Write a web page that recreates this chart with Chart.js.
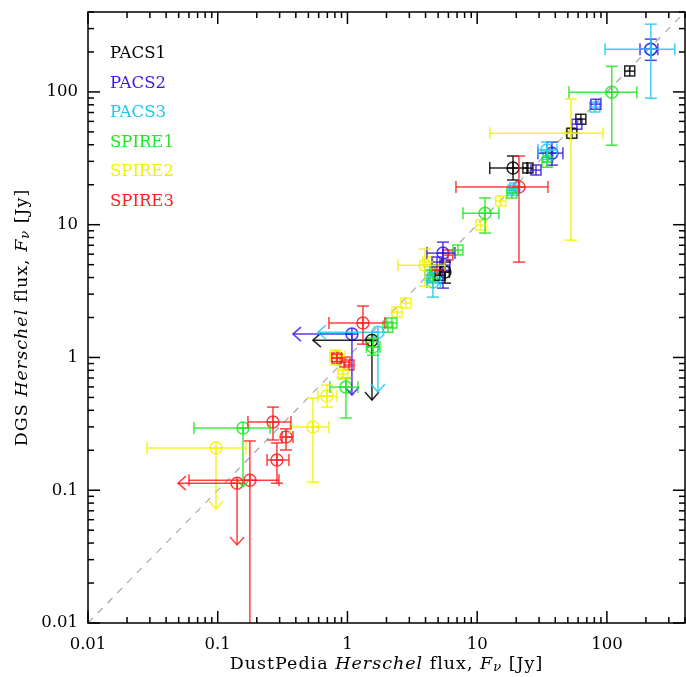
<!DOCTYPE html>
<html>
<head>
<meta charset="utf-8">
<script src="https://cdn.jsdelivr.net/npm/chart.js@4.4.1/dist/chart.umd.min.js"></script>
<style>
  html, body { margin: 0; padding: 0; background: #fff; overflow: hidden; }
  #wrap { width: 686px; height: 677px; position: relative; }
  canvas { display: block; }
</style>
</head>
<body>
<div id="wrap"><canvas id="flux"></canvas></div>
<script>
// Legend / band colours
const bandNames = ['PACS1', 'PACS2', 'PACS3', 'SPIRE1', 'SPIRE2', 'SPIRE3'];
const bandColors = ['#000000', '#3a18e6', '#1ec8f5', '#22e622', '#f2f200', '#ff2020'];

const decadeTicks = [0.01, 0.1, 1, 10, 100];

// Values, Jy. Err = [lo, hi]; lim: 'x' left arrow, 'y' down arrow
// (for limits the "lo" end is the arrow tip). shape: c = circle, s = square
const pacs1X = [150, 63.0, 53.7, 24.6, 18.9, 1.545, 5.64, 5.16];
const pacs1Y = [143.5, 62.4, 48.9, 26.7, 26.7, 1.35, 4.40, 4.17];
const pacs1XErr = [null, null, null, null, [12.5, 24.2], [0.542, 1.545], [5.2, 6.1], null];
const pacs1YErr = [null, null, null, null, [21.7, 32.9], [0.478, 1.35], [3.63, 5.23], null];
const pacs1Shape = ['s', 's', 's', 's', 'c', 'c', 'c', 's'];
const pacs1Lim = ['', '', '', '', '', 'xy', '', ''];

const pacs2X = [218, 82.3, 58.7, 37.7, 28.4, 1.083, 5.45, 4.90, 5.64];
const pacs2Y = [210, 80.9, 57.2, 34.6, 25.8, 1.50, 6.11, 5.23, 4.96];
const pacs2XErr = [[180, 247], null, null, [29.4, 45.8], null, [0.380, 1.083], [4.1, 6.74], null, null];
const pacs2YErr = [[173, 250], null, null, [28.1, 41.9], null, [0.521, 1.50], [3.33, 7.39], null, null];
const pacs2Shape = ['c', 's', 's', 'c', 's', 'c', 'c', 's', 's'];
const pacs2Lim = ['', '', '', '', '', 'xy', '', '', ''];

const pacs3X = [218, 80.8, 34.5, 18.9, 1.718, 4.56, 4.32, 19.5];
const pacs3Y = [210, 76.9, 36.5, 18.2, 1.55, 3.70, 4.17, 18.9];
const pacs3XErr = [[96.6, 334], null, [29.4, 41.2], null, [0.592, 1.718], [4.1, 5.2], null, null];
const pacs3YErr = [[89.8, 324], null, [31, 41.9], null, [0.549, 1.55], [2.85, 4.4], null, null];
const pacs3Shape = ['c', 's', 'c', 's', 'c', 'c', 's', 's'];
const pacs3Lim = ['', '', '', '', 'xy', '', '', ''];

const spire1X = [109, 35.1, 34.5, 18.5, 11.5, 7.11, 4.32, 4.56, 2.20, 2.05, 1.572, 0.973, 0.1566];
const spire1Y = [99.6, 32.3, 29.6, 17.3, 12.2, 6.44, 4.55, 3.96, 1.82, 1.69, 1.20, 0.598, 0.294];
const spire1XErr = [[51, 170], null, null, null, [7.77, 14.7], null, null, null, null, null, [1.40, 1.78], [0.733, 1.205], [0.0656, 0.253]];
const spire1YErr = [[39.7, 156], null, null, null, [8.65, 15.9], null, null, null, null, null, [1.04, 1.40], [0.350, 0.70], [0.106, 0.294]];
const spire1Shape = ['c', 's', 's', 's', 'c', 's', 's', 's', 's', 's', 'c', 'c', 'c'];
const spire1Lim = ['', '', '', '', '', '', '', '', '', '', '', '', 'y'];

const spire2X = [52.8, 15.2, 10.7, 3.96, 4.17, 2.82, 2.41, 0.815, 0.923, 0.695, 0.542, 0.097];
const spire2Y = [48.9, 15.1, 9.93, 4.96, 5.23, 2.57, 2.20, 1.02, 0.750, 0.512, 0.299, 0.208];
const spire2XErr = [[12.5, 93.2], null, null, [2.45, 5.64], null, null, null, [0.733, 0.957], null, [0.592, 0.83], [0.360, 0.72], [0.0285, 0.165]];
const spire2YErr = [[7.65, 88.3], null, null, [3.45, 6.55], null, null, null, [0.877, 1.14], [0.70, 0.80], [0.423, 0.62], [0.115, 0.495], [0.0722, 0.208]];
const spire2Shape = ['c', 's', 's', 'c', 's', 's', 's', 'c', 's', 'c', 'c', 'c'];
const spire2Lim = ['', '', '', '', '', '', '', '', '', '', '', 'y'];

const spire3X = [21.0, 5.95, 4.90, 1.317, 0.83, 0.957, 1.028, 0.2666, 0.336, 0.286, 0.177, 0.141];
const spire3Y = [19.2, 5.90, 4.55, 1.82, 0.989, 0.923, 0.877, 0.326, 0.2516, 0.169, 0.119, 0.113];
const spire3XErr = [[6.86, 35.1], null, null, [0.72, 1.945], [0.76, 0.90], null, null, [0.171, 0.367], [0.313, 0.380], [0.240, 0.354], [0.060, 0.2965], [0.0494, 0.141]];
const spire3YErr = [[5.23, 32.9], null, null, [1.26, 2.44], [0.93, 1.06], null, null, [0.239, 0.423], [0.201, 0.290], [0.113, 0.227], [0.005, 0.235], [0.0387, 0.113]];
const spire3Shape = ['c', 's', 's', 'c', 'c', 's', 's', 'c', 'c', 'c', 'c', 'c'];
const spire3Lim = ['', '', '', '', '', '', '', '', '', '', '', 'xy'];

const bands = [
    { x: pacs1X, y: pacs1Y, xErr: pacs1XErr, yErr: pacs1YErr, shape: pacs1Shape, lim: pacs1Lim },
    { x: pacs2X, y: pacs2Y, xErr: pacs2XErr, yErr: pacs2YErr, shape: pacs2Shape, lim: pacs2Lim },
    { x: pacs3X, y: pacs3Y, xErr: pacs3XErr, yErr: pacs3YErr, shape: pacs3Shape, lim: pacs3Lim },
    { x: spire1X, y: spire1Y, xErr: spire1XErr, yErr: spire1YErr, shape: spire1Shape, lim: spire1Lim },
    { x: spire2X, y: spire2Y, xErr: spire2XErr, yErr: spire2YErr, shape: spire2Shape, lim: spire2Lim },
    { x: spire3X, y: spire3Y, xErr: spire3XErr, yErr: spire3YErr, shape: spire3Shape, lim: spire3Lim }
];

const FONT = "'DejaVu Serif', serif";
const CIRCLE_R = 6;
const SQUARE_HALF = 5;

function withAlpha(hex, a) {
    const n = parseInt(hex.slice(1), 16);
    return 'rgba(' + (n >> 16) + ',' + ((n >> 8) & 255) + ',' + (n & 255) + ',' + a + ')';
}

function seg(ctx, x0, y0, x1, y1) {
    ctx.beginPath();
    ctx.moveTo(x0, y0);
    ctx.lineTo(x1, y1);
    ctx.stroke();
}

// error bars, caps, limit arrows and the cross inside each marker
const errorBarPlugin = {
    id: 'errorBars',
    afterDatasetsDraw(chart) {
        const { ctx, chartArea: a } = chart;
        const xs = chart.scales.x, ys = chart.scales.y;
        ctx.save();
        ctx.beginPath();
        ctx.rect(a.left, a.top, a.right - a.left, a.bottom - a.top);
        ctx.clip();
        ctx.lineWidth = 1.5;
        bands.forEach((b, bi) => {
            ctx.strokeStyle = withAlpha(bandColors[bi], 0.85);
            b.x.forEach((xv, i) => {
                const px = xs.getPixelForValue(xv);
                const py = ys.getPixelForValue(b.y[i]);
                const h = b.shape[i] === 's' ? SQUARE_HALF : CIRCLE_R;
                seg(ctx, px - h, py, px + h, py);
                seg(ctx, px, py - h, px, py + h);
                const lim = b.lim[i];
                if (b.xErr[i]) {
                    const x0 = xs.getPixelForValue(b.xErr[i][0]);
                    const x1 = xs.getPixelForValue(b.xErr[i][1]);
                    seg(ctx, x0, py, x1, py);
                    if (lim.includes('x')) {
                        ctx.beginPath();
                        ctx.moveTo(x0 + 8, py - 7);
                        ctx.lineTo(x0, py);
                        ctx.lineTo(x0 + 8, py + 7);
                        ctx.stroke();
                    } else {
                        seg(ctx, x0, py - 6, x0, py + 6);
                        seg(ctx, x1, py - 6, x1, py + 6);
                    }
                }
                if (b.yErr[i]) {
                    const y0 = ys.getPixelForValue(b.yErr[i][0]);
                    const y1 = ys.getPixelForValue(b.yErr[i][1]);
                    seg(ctx, px, y0, px, y1);
                    if (lim.includes('y')) {
                        ctx.beginPath();
                        ctx.moveTo(px - 7, y0 - 8);
                        ctx.lineTo(px, y0);
                        ctx.lineTo(px + 7, y0 - 8);
                        ctx.stroke();
                    } else {
                        seg(ctx, px - 6, y0, px + 6, y0);
                        seg(ctx, px - 6, y1, px + 6, y1);
                    }
                }
            });
        });
        ctx.restore();
    }
};

// IDL-style box: inward ticks on all four sides, legend text, axis titles
const framePlugin = {
    id: 'frame',
    afterDraw(chart) {
        const { ctx, chartArea: a } = chart;
        const xs = chart.scales.x, ys = chart.scales.y;
        ctx.save();
        ctx.strokeStyle = '#000';
        ctx.lineWidth = 1.5;
        ctx.strokeRect(a.left, a.top, a.right - a.left, a.bottom - a.top);

        const ticks = [];
        decadeTicks.forEach(d => {
            ticks.push([d, 12]);
            for (let k = 2; k <= 9; k++) {
                if (k * d <= 400) ticks.push([k * d, 6]);
            }
        });
        ticks.forEach(([v, len]) => {
            const px = xs.getPixelForValue(v);
            seg(ctx, px, a.bottom, px, a.bottom - len);
            seg(ctx, px, a.top, px, a.top + len);
            const py = ys.getPixelForValue(v);
            seg(ctx, a.left, py, a.left + len, py);
            seg(ctx, a.right, py, a.right - len, py);
        });

        // legend
        ctx.font = '16.5px ' + FONT;
        ctx.textAlign = 'left';
        ctx.textBaseline = 'alphabetic';
        bandNames.forEach((n, i) => {
            ctx.fillStyle = bandColors[i];
            ctx.fillText(n, a.left + 22, 58 + i * 29.5);
        });

        // axis titles
        ctx.fillStyle = '#000';
        const parts = (p) => [
            [p, 'normal'],
            ['Herschel', 'italic'],
            [' flux, ', 'normal'],
            ['F', 'italic'],
            ['\u03bd', 'italic-sub'],
            [' [Jy]', 'normal']
        ];
        const drawTitle = (list, cx, cy) => {
            const fontOf = s => s === 'italic' ? 'italic 17.5px ' + FONT
                : s === 'italic-sub' ? 'italic 13px ' + FONT : '17.5px ' + FONT;
            ctx.letterSpacing = '1px';
            let w = 0;
            list.forEach(([t, s]) => { ctx.font = fontOf(s); w += ctx.measureText(t).width; });
            let x = cx - w / 2;
            list.forEach(([t, s]) => {
                ctx.font = fontOf(s);
                ctx.fillText(t, x, s === 'italic-sub' ? cy + 4 : cy);
                x += ctx.measureText(t).width;
            });
            ctx.letterSpacing = '0px';
        };
        ctx.textAlign = 'left';
        ctx.textBaseline = 'middle';
        drawTitle(parts('DustPedia '), (a.left + a.right) / 2, 664);
        ctx.save();
        ctx.translate(22, (a.top + a.bottom) / 2);
        ctx.rotate(-Math.PI / 2);
        drawTitle(parts('DGS '), 0, 0);
        ctx.restore();
        ctx.restore();
    }
};

const datasets = bands.map((b, bi) => ({
    label: bandNames[bi],
    data: b.x.map((xv, i) => ({ x: xv, y: b.y[i] })),
    pointStyle: b.shape.map(s => s === 's' ? 'rect' : 'circle'),
    pointRadius: b.shape.map(s => s === 's' ? SQUARE_HALF / Math.SQRT1_2 : CIRCLE_R),
    pointBorderWidth: 1.5,
    pointBorderColor: withAlpha(bandColors[bi], 0.85),
    pointBackgroundColor: 'rgba(0,0,0,0)',
    showLine: false,
    order: 1
}));

datasets.push({
    type: 'line',
    label: 'one-to-one',
    data: [{ x: 0.01, y: 0.01 }, { x: 400, y: 400 }],
    borderColor: '#a8a8a8',
    borderWidth: 1.2,
    borderDash: [7, 7],
    pointRadius: 0,
    fill: false,
    order: 10
});

const axisTicks = {
    font: { family: FONT, size: 16.5 },
    color: '#000',
    autoSkip: false,
    maxRotation: 0,
    callback: v => String(v)
};

new Chart(document.getElementById('flux'), {
    type: 'scatter',
    data: { datasets: datasets },
    options: {
        responsive: true,
        maintainAspectRatio: false,
        animation: false,
        events: [],
        layout: { autoPadding: false, padding: { top: 12, right: 1, left: 0, bottom: 0 } },
        plugins: { legend: { display: false }, tooltip: { enabled: false } },
        scales: {
            x: {
                type: 'logarithmic',
                min: 0.01,
                max: 400,
                grid: { display: false, drawTicks: false },
                border: { display: false },
                ticks: Object.assign({}, axisTicks, { padding: 12 }),
                afterBuildTicks: s => { s.ticks = decadeTicks.map(v => ({ value: v })); },
                afterFit: s => { s.height = 54; s.paddingLeft = 0; s.paddingRight = 0; }
            },
            y: {
                type: 'logarithmic',
                min: 0.01,
                max: 400,
                grid: { display: false, drawTicks: false },
                border: { display: false },
                ticks: Object.assign({}, axisTicks, { padding: 10 }),
                afterBuildTicks: s => { s.ticks = decadeTicks.map(v => ({ value: v })); },
                afterFit: s => { s.width = 88; s.paddingTop = 0; s.paddingBottom = 0; }
            }
        }
    },
    plugins: [errorBarPlugin, framePlugin]
});
</script>
</body>
</html>
